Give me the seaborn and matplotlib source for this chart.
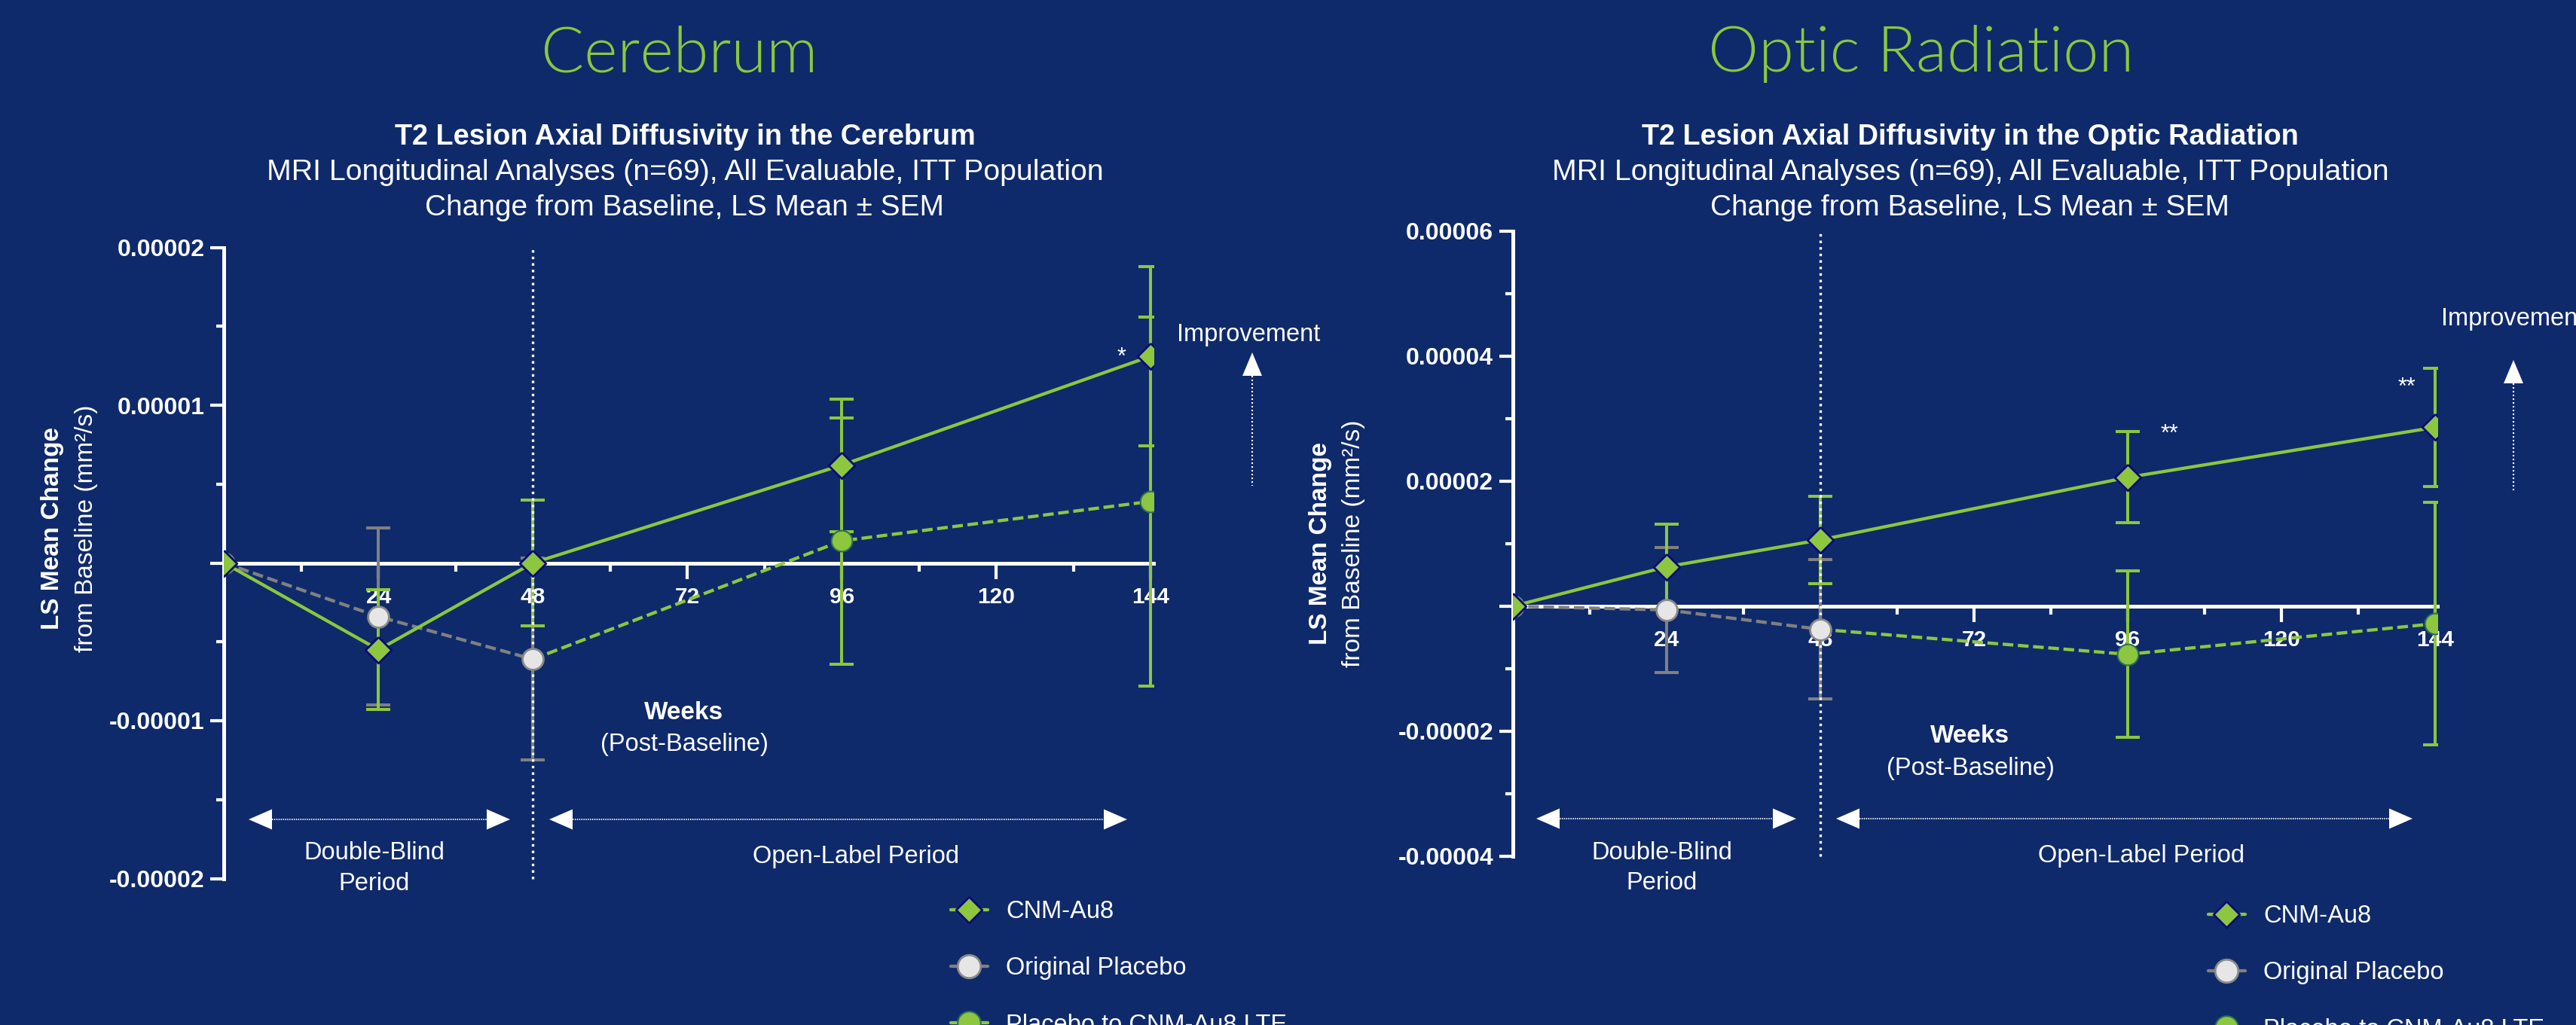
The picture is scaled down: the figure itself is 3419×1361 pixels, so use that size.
import numpy as np
import pandas as pd
import seaborn as sns
import matplotlib
matplotlib.use("Agg")
import matplotlib.pyplot as plt
from matplotlib.lines import Line2D
from matplotlib.patches import Polygon

# ------------------------------------------------------------------ data
weeks_cnm = [0, 24, 48, 96, 144]
weeks_pbo = [0, 24, 48]
weeks_lte = [48, 96, 144]

# Cerebrum (LS mean change, mm^2/s) and SEM
cer_cnm = [0.0, -0.55e-5, 0.0, 0.62e-5, 1.31e-5]
cer_cnm_sem = [0.0, 0.38e-5, 0.40e-5, 0.42e-5, 0.57e-5]
cer_pbo = [0.0, -0.34e-5, -0.61e-5]
cer_pbo_sem = [0.0, 0.56e-5, 0.64e-5]
cer_lte = [-0.61e-5, 0.14e-5, 0.39e-5]
cer_lte_sem = [0.64e-5, 0.78e-5, 1.17e-5]

# Optic radiation
opt_cnm = [0.0, 0.63e-5, 1.06e-5, 2.06e-5, 2.86e-5]
opt_cnm_sem = [0.0, 0.68e-5, 0.70e-5, 0.73e-5, 0.95e-5]
opt_pbo = [0.0, -0.06e-5, -0.37e-5]
opt_pbo_sem = [0.0, 1.00e-5, 1.11e-5]
opt_lte = [-0.37e-5, -0.77e-5, -0.28e-5]
opt_lte_sem = [1.11e-5, 1.33e-5, 1.94e-5]

x_ticks = [24, 48, 72, 96, 120, 144]
x_tick_labels = ["24", "48", "72", "96", "120", "144"]
x_minor = [12, 36, 60, 84, 108, 132]
cer_y_ticks = [-2e-5, -1e-5, 0, 1e-5, 2e-5]
cer_y_tick_labels = ["-0.00002", "-0.00001", "", "0.00001", "0.00002"]
cer_y_minor = [-1.5e-5, -0.5e-5, 0.5e-5, 1.5e-5]
opt_y_ticks = [-4e-5, -2e-5, 0, 2e-5, 4e-5, 6e-5]
opt_y_tick_labels = ["-0.00004", "-0.00002", "", "0.00002", "0.00004", "0.00006"]
opt_y_minor = [-3e-5, -1e-5, 1e-5, 3e-5, 5e-5]

panel_titles = ["Cerebrum", "Optic Radiation"]
chart_titles = ["T2 Lesion Axial Diffusivity in the Cerebrum",
                "T2 Lesion Axial Diffusivity in the Optic Radiation"]
subtitle_1 = "MRI Longitudinal Analyses (n=69), All Evaluable, ITT Population"
subtitle_2 = "Change from Baseline, LS Mean \u00b1 SEM"
series_names = ["CNM-Au8", "Original Placebo", "Placebo to CNM-Au8 LTE"]
cer_stars = [(144, 1.31e-5, "*")]
opt_stars = [(96, 2.06e-5, "**"), (144, 2.86e-5, "**")]

# ------------------------------------------------------------------ style
BG = "#0F2A6B"
GREEN = "#8DC63F"
GRAY = "#808080"
NAVY = "#0A0A78"
PBO_FILL = "#E6E6E6"
LTE_EDGE = "#2C6E58"
WHITE = "white"
DIAMOND = [(0, 1), (1, 0), (0, -1), (-1, 0), (0, 1)]

sns.set_style("white", rc={"axes.facecolor": BG, "figure.facecolor": BG,
                           "savefig.facecolor": BG, "axes.edgecolor": WHITE})
plt.rcParams["font.family"] = ["Liberation Sans", "DejaVu Sans"]

W, H = 3419, 1361
fig = plt.figure(figsize=(W / 100, H / 100), dpi=100)
fig.patch.set_facecolor(BG)


def fx(x):
    return x / W


def fy(y):
    return 1 - y / H


def ftext(x, y, s, **kw):
    kw.setdefault("color", WHITE)
    fig.text(fx(x), fy(y), s, **kw)


ax1 = fig.add_axes([fx(297.4), fy(1166.5), (1530.6 - 297.4) / W, (1166.5 - 328.5) / H])
ax2 = fig.add_axes([fx(2008), fy(1137), (3235.4 - 2008) / W, (1137 - 306.7) / H])

DASH = (0, (3.3, 1.4))
LW = 3.1
ELW = 2.9
D_MS = 25
D_MEW = 2.0


def draw_panel(ax, cnm, cnm_sem, pbo, pbo_sem, lte, lte_sem, ylim, yt, ytl, ymin):
    ax.set_facecolor(BG)
    # error bars
    ax.errorbar(weeks_pbo[1:], pbo[1:], yerr=pbo_sem[1:], fmt="none", ecolor=GRAY,
                elinewidth=ELW, capsize=11.5, capthick=2.9, zorder=3)
    ax.errorbar(weeks_lte, lte, yerr=lte_sem, fmt="none", ecolor=GREEN,
                elinewidth=ELW, capsize=11.5, capthick=2.9, zorder=2.9)
    ax.errorbar(weeks_cnm[1:], cnm[1:], yerr=cnm_sem[1:], fmt="none", ecolor=GREEN,
                elinewidth=ELW, capsize=11.5, capthick=2.9, zorder=3.2)
    # period divider
    ax.axvline(48, color=WHITE, lw=2.4, ls=(0, (1, 1.6)), zorder=4, clip_on=False)
    # lines
    sns.lineplot(data=pd.DataFrame({"week": weeks_lte, "value": lte}), x="week", y="value",
                 ax=ax, color=GREEN, lw=LW, linestyle=DASH, marker="o", markersize=20,
                 markerfacecolor=GREEN, markeredgecolor=LTE_EDGE, markeredgewidth=1.5,
                 errorbar=None, legend=False, zorder=5)
    sns.lineplot(data=pd.DataFrame({"week": weeks_pbo, "value": pbo}), x="week", y="value",
                 ax=ax, color=GRAY, lw=LW, linestyle=DASH, marker="o", markersize=20,
                 markerfacecolor=PBO_FILL, markeredgecolor="#8A8A8A", markeredgewidth=2,
                 errorbar=None, legend=False, zorder=5.5)
    sns.lineplot(data=pd.DataFrame({"week": weeks_cnm, "value": cnm}), x="week", y="value",
                 ax=ax, color=GREEN, lw=LW, marker=DIAMOND, markersize=D_MS,
                 markerfacecolor=GREEN, markeredgecolor=NAVY, markeredgewidth=D_MEW,
                 errorbar=None, legend=False, zorder=6)
    # axes
    ax.set_xlim(0, 144.4)
    ax.set_ylim(*ylim)
    for sp in ["top", "right"]:
        ax.spines[sp].set_visible(False)
    ax.spines["bottom"].set_position(("data", 0))
    for sp in ["left", "bottom"]:
        ax.spines[sp].set_color(WHITE)
        ax.spines[sp].set_linewidth(3.6)
        ax.spines[sp].set_zorder(2)
    ax.set_xticks(x_ticks)
    ax.set_xticklabels(x_tick_labels, fontweight="bold")
    ax.set_xticks(x_minor, minor=True)
    ax.set_yticks(yt)
    ax.set_yticklabels(ytl, fontweight="bold")
    ax.set_yticks(ymin, minor=True)
    ax.tick_params(axis="x", which="major", length=15, width=3, color=WHITE,
                   labelcolor=WHITE, labelsize=21.5, pad=7.5, direction="out", bottom=True)
    ax.tick_params(axis="x", which="minor", length=8, width=3, color=WHITE, bottom=True)
    ax.tick_params(axis="y", which="major", length=13, width=3, color=WHITE,
                   labelcolor=WHITE, labelsize=23, pad=5.8, direction="out", left=True)
    ax.tick_params(axis="y", which="minor", length=7, width=3, color=WHITE, left=True)
    ax.set_xlabel("")
    ax.set_ylabel("")
    ax.grid(False)


draw_panel(ax1, cer_cnm, cer_cnm_sem, cer_pbo, cer_pbo_sem, cer_lte, cer_lte_sem,
           (-2e-5, 2e-5), cer_y_ticks, cer_y_tick_labels, cer_y_minor)
draw_panel(ax2, opt_cnm, opt_cnm_sem, opt_pbo, opt_pbo_sem, opt_lte, opt_lte_sem,
           (-4e-5, 6e-5), opt_y_ticks, opt_y_tick_labels, opt_y_minor)

# significance stars
star_offsets_1 = [(-28, -7)]
star_offsets_2 = [(40, 35), (-27, 32)]
for (wk, val, s), off in zip(cer_stars, star_offsets_1):
    ax1.annotate(s, xy=(wk, val), xytext=off, textcoords="offset points", ha="center",
                 va="baseline", color=WHITE, fontsize=22, zorder=8)
for (wk, val, s), off in zip(opt_stars, star_offsets_2):
    ax2.annotate(s, xy=(wk, val), xytext=off, textcoords="offset points", ha="center",
                 va="baseline", color=WHITE, fontsize=22, zorder=8)

# ------------------------------------------------------------------ texts
TITLE_FONT = dict(family=["Lato", "Liberation Sans"], weight=300, fontsize=61, color=GREEN)
ftext(902, 95, panel_titles[0], ha="center", va="baseline", **TITLE_FONT)
ftext(2550, 95, panel_titles[1], ha="center", va="baseline", **TITLE_FONT)

for cx, t in [(909, chart_titles[0]), (2615, chart_titles[1])]:
    ftext(cx, 192, t, ha="center", va="baseline", fontsize=27.3, fontweight="bold")
    ftext(cx, 239, subtitle_1, ha="center", va="baseline", fontsize=28.3)
    ftext(cx, 286, subtitle_2, ha="center", va="baseline", fontsize=28)

# y labels
for xb, xn, yc in [(70, 115, 702), (1752, 1797, 722)]:
    ftext(xb, yc, "LS Mean Change", rotation=90, ha="center", va="center",
          fontsize=24, fontweight="bold")
    ftext(xn, yc, "from Baseline (mm\u00b2/s)", rotation=90, ha="center", va="center",
          fontsize=24)

# x labels
for cx, yb1, yb2 in [(908, 955, 997), (2615, 986, 1029)]:
    ftext(cx, yb1, "Weeks", ha="center", va="baseline", fontsize=24, fontweight="bold")
    ftext(cx, yb2, "(Post-Baseline)", ha="center", va="baseline", fontsize=23.5)

# period labels & arrows


def tri(tip_x, tip_y, base_x, half_h):
    fig.add_artist(Polygon([[fx(tip_x), fy(tip_y)], [fx(base_x), fy(tip_y - half_h)],
                            [fx(base_x), fy(tip_y + half_h)]], closed=True,
                           transform=fig.transFigure, fc=WHITE, ec="none"))


def period_arrow(x0, x1, y):
    hl, hh = 31, 13.5
    fig.add_artist(Line2D([fx(x0 + hl), fx(x1 - hl)], [fy(y), fy(y)], transform=fig.transFigure,
                          color=WHITE, lw=1.3, ls=(0, (0.8, 0.8))))
    tri(x0, y, x0 + hl, hh)
    tri(x1, y, x1 - hl, hh)


for (a0, a1, b0, b1, ya, xd, xo, yd1, yd2, yo) in [
        (330, 677, 729, 1496, 1088, 497, 1136, 1141, 1182, 1146),
        (2039, 2384, 2437, 3202, 1087, 2206, 2842, 1141, 1181, 1145)]:
    period_arrow(a0, a1, ya)
    period_arrow(b0, b1, ya)
    ftext(xd, yd1, "Double-Blind", ha="center", va="baseline", fontsize=23.5)
    ftext(xd, yd2, "Period", ha="center", va="baseline", fontsize=23.5)
    ftext(xo, yo, "Open-Label Period", ha="center", va="baseline", fontsize=23.5)

# improvement arrows


def up_arrow(x, tip_y, base_y, end_y, half_w=13):
    fig.add_artist(Polygon([[fx(x), fy(tip_y)], [fx(x - half_w), fy(base_y)],
                            [fx(x + half_w), fy(base_y)]], closed=True,
                           transform=fig.transFigure, fc=WHITE, ec="none"))
    fig.add_artist(Line2D([fx(x), fx(x)], [fy(base_y), fy(end_y)], transform=fig.transFigure,
                          color=WHITE, lw=1.5, ls=(0, (1, 1.4))))


ftext(1657, 453, "Improvement", ha="center", va="baseline", fontsize=23.5)
up_arrow(1662, 468, 499, 645)
ftext(3240, 432, "Improvement", ha="left", va="baseline", fontsize=23.5)
up_arrow(3336, 478, 509, 654)

# legends
handles = [
    Line2D([], [], color=GREEN, lw=LW, marker=DIAMOND, markersize=D_MS, markerfacecolor=GREEN,
           markeredgecolor=NAVY, markeredgewidth=D_MEW),
    Line2D([], [], color=GRAY, lw=LW, marker="o", markersize=22, markerfacecolor=PBO_FILL,
           markeredgecolor="#8A8A8A", markeredgewidth=2),
    Line2D([], [], color=GREEN, lw=LW, marker="o", markersize=22, markerfacecolor=GREEN,
           markeredgecolor=LTE_EDGE, markeredgewidth=1.5),
]
for ax, lx, ly in [(ax1, 1262, 1195), (ax2, 2931, 1201)]:
    leg = ax.legend(handles, series_names, loc="upper left",
                    bbox_to_anchor=(fx(lx), fy(ly)), bbox_transform=fig.transFigure,
                    frameon=False, borderpad=0, borderaxespad=0, handlelength=1.5,
                    handletextpad=0.75, labelspacing=1.36, fontsize=23.5)
    for t in leg.get_texts():
        t.set_color(WHITE)

fig.savefig("out.png", dpi=100, facecolor=BG)
